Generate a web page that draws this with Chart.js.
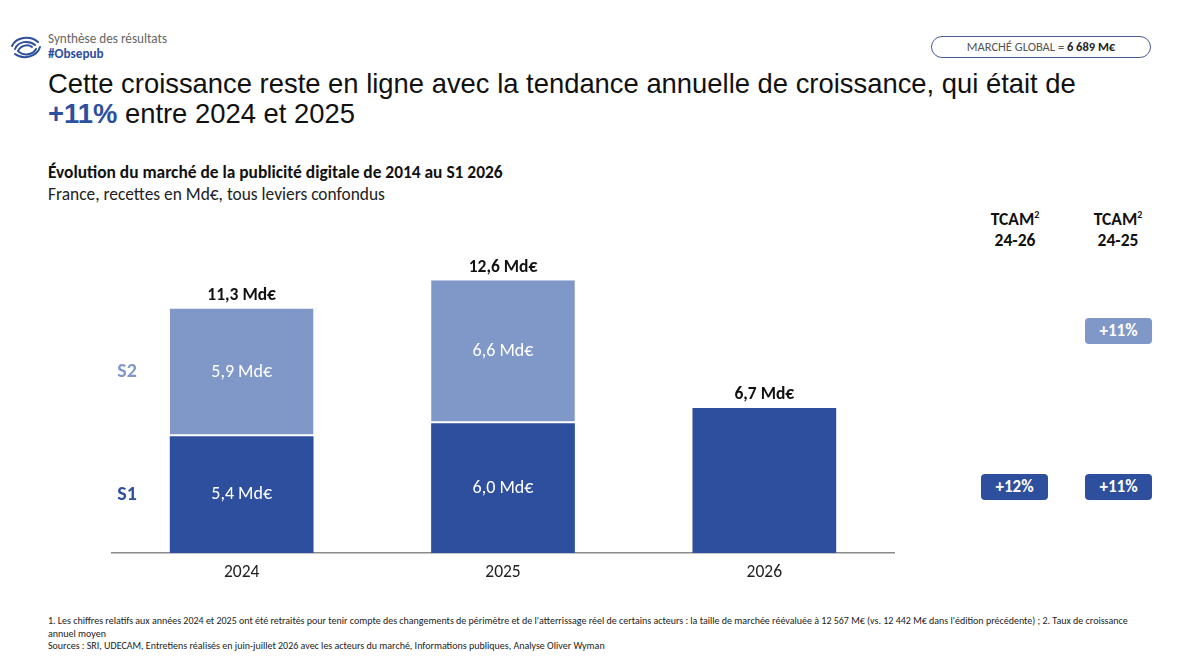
<!DOCTYPE html>
<html><head><meta charset="utf-8">
<script src="https://cdn.jsdelivr.net/npm/chart.js@4"></script>
<style>
html,body{margin:0;padding:0;background:#fff;width:1200px;height:664px;overflow:hidden;position:relative;font-family:Carlito,Lato,"Open Sans",sans-serif;}
.abs{position:absolute;white-space:nowrap;}
#chartBox{position:absolute;left:111px;top:230px;width:784px;height:360px;}
.tbox{position:absolute;width:67px;height:26px;border-radius:4px;color:#fff;font-weight:bold;font-size:17px;line-height:26px;text-align:center;}
.thead{position:absolute;width:80px;text-align:center;font-weight:bold;font-size:17.5px;line-height:21px;color:#111;}
</style></head>
<body>
<svg class="abs" style="left:8px;top:34px" width="36" height="28" viewBox="0 0 36 28">
  <g fill="none" stroke="#2D4F9E" stroke-width="2" stroke-linecap="round">
    <path d="M4 12 C 8 3, 22 1, 30 8"/>
    <path d="M7 15 C 10 7, 21 6, 27 11"/>
    <path d="M10 17 C 13 11, 20 10, 24 13"/>
    <path d="M32 13 C 29 23, 15 26, 7 20"/>
    <path d="M28 15 C 25 21, 16 22, 11 18"/>
  </g>
</svg>
<div class="abs" style="left:48px;top:30px;font-size:13.2px;color:#666;">Synthèse des résultats</div>
<div class="abs" style="left:48px;top:45px;font-size:13.2px;color:#2D4F9E;font-weight:bold;">#Obsepub</div>
<div class="abs" style="left:931px;top:36px;width:218px;height:20px;border:1.5px solid #4A5E95;border-radius:11px;text-align:center;font-size:12.5px;line-height:20px;color:#555;">MARCHÉ GLOBAL = <b style="color:#222">6 689 M€</b></div>
<div class="abs" style="left:48px;top:69px;font-family:'Liberation Sans',Arial,sans-serif;font-size:27.4px;line-height:30px;color:#111;">Cette croissance reste en ligne avec la tendance annuelle de croissance, qui était de<br><b style="color:#2D4F9E">+11%</b> entre 2024 et 2025</div>
<div class="abs" style="left:48px;top:161px;font-size:17.4px;font-weight:bold;color:#111;">Évolution du marché de la publicité digitale de 2014 au S1 2026</div>
<div class="abs" style="left:48px;top:183px;font-size:17.4px;color:#222;">France, recettes en Md€, tous leviers confondus</div>

<div class="thead" style="left:975px;top:209px;">TCAM<sup style="font-size:10px;line-height:0">2</sup><br>24-26</div>
<div class="thead" style="left:1078px;top:209px;">TCAM<sup style="font-size:10px;line-height:0">2</sup><br>24-25</div>
<div class="tbox" style="left:1085px;top:318px;background:#8098C8;">+11%</div>
<div class="tbox" style="left:981px;top:474px;background:#2D4F9E;">+12%</div>
<div class="tbox" style="left:1085px;top:474px;background:#2D4F9E;">+11%</div>

<div id="chartBox"><canvas id="c"></canvas></div>

<div class="abs" style="left:48px;top:615px;font-size:10px;line-height:12.5px;color:#222;">1. Les chiffres relatifs aux années 2024 et 2025 ont été retraités pour tenir compte des changements de périmètre et de l'atterrissage réel de certains acteurs : la taille de marchée réévaluée à 12 567 M€ (vs. 12 442 M€ dans l'édition précédente) ; 2. Taux de croissance<br>annuel moyen<br>Sources : SRI, UDECAM, Entretiens réalisés en juin-juillet 2026 avec les acteurs du marché, Informations publiques, Analyse Oliver Wyman</div>

<script>
const categories = ["2024", "2025", "2026"];
const s1Values = [5.4, 6.0, 6.7];
const s2Values = [5.9, 6.6, null];
const seriesNames = ["S1", "S2"];

const DARK = "#2D4F9E", LIGHT = "#8098C8";
const fmt = v => v.toFixed(1).replace(".", ",") + " Md€";

const labelPlugin = {
  id: "labels",
  afterDatasetsDraw(chart) {
    const ctx = chart.ctx;
    const metas = [chart.getDatasetMeta(0), chart.getDatasetMeta(1)];
    const dsets = chart.data.datasets;
    ctx.save();
    ctx.textAlign = "center";
    ctx.textBaseline = "middle";
    metas.forEach((meta, di) => {
      meta.data.forEach((bar, i) => {
        const v = dsets[di].data[i];
        if (v == null) return;
        if (di === 1 || dsets[1].data[i] != null) {
          ctx.fillStyle = "#fff";
          ctx.font = "18px Carlito, Lato, sans-serif";
          ctx.fillText(fmt(v), bar.x, (bar.y + bar.base) / 2);
        }
      });
    });
    categories.forEach((c, i) => {
      const total = (dsets[0].data[i] || 0) + (dsets[1].data[i] || 0);
      const topBar = dsets[1].data[i] != null ? metas[1].data[i] : metas[0].data[i];
      ctx.fillStyle = "#111";
      ctx.font = "bold 17.5px Carlito, Lato, sans-serif";
      ctx.fillText(fmt(total), topBar.x, topBar.y - 13);
    });
    const xl = chart.chartArea.left + 16;
    metas.forEach((meta, di) => {
      const bar = meta.data[0];
      ctx.fillStyle = di === 0 ? DARK : LIGHT;
      ctx.font = "bold 20px Carlito, Lato, sans-serif";
      ctx.fillText(seriesNames[di], xl, (bar.y + bar.base) / 2);
    });
    ctx.restore();
  }
};

new Chart(document.getElementById("c"), {
  type: "bar",
  data: {
    labels: categories,
    datasets: [
      { label: seriesNames[0], data: s1Values, backgroundColor: DARK, borderWidth: 0,
        categoryPercentage: 1, barPercentage: 0.55 },
      { label: seriesNames[1], data: s2Values, backgroundColor: LIGHT, borderColor: "#fff",
        borderWidth: { top: 0, left: 0, right: 0, bottom: 2 }, borderSkipped: false,
        categoryPercentage: 1, barPercentage: 0.55 }
    ]
  },
  options: {
    responsive: true, maintainAspectRatio: false, animation: false,
    layout: { padding: { top: 20, left: 0, right: 0, bottom: 0 } },
    plugins: { legend: { display: false }, tooltip: { enabled: false } },
    scales: {
      x: { stacked: true, grid: { display: false },
        border: { display: true, color: "#8a8a8a", width: 1.5 },
        ticks: { color: "#222", font: { family: "Carlito, Lato, sans-serif", size: 17.5 }, padding: 1 },
        afterFit: s => { s.height = 37; } },
      y: { stacked: true, display: false, min: 0, max: 14 }
    }
  },
  plugins: [labelPlugin]
});
</script>
</body></html>
